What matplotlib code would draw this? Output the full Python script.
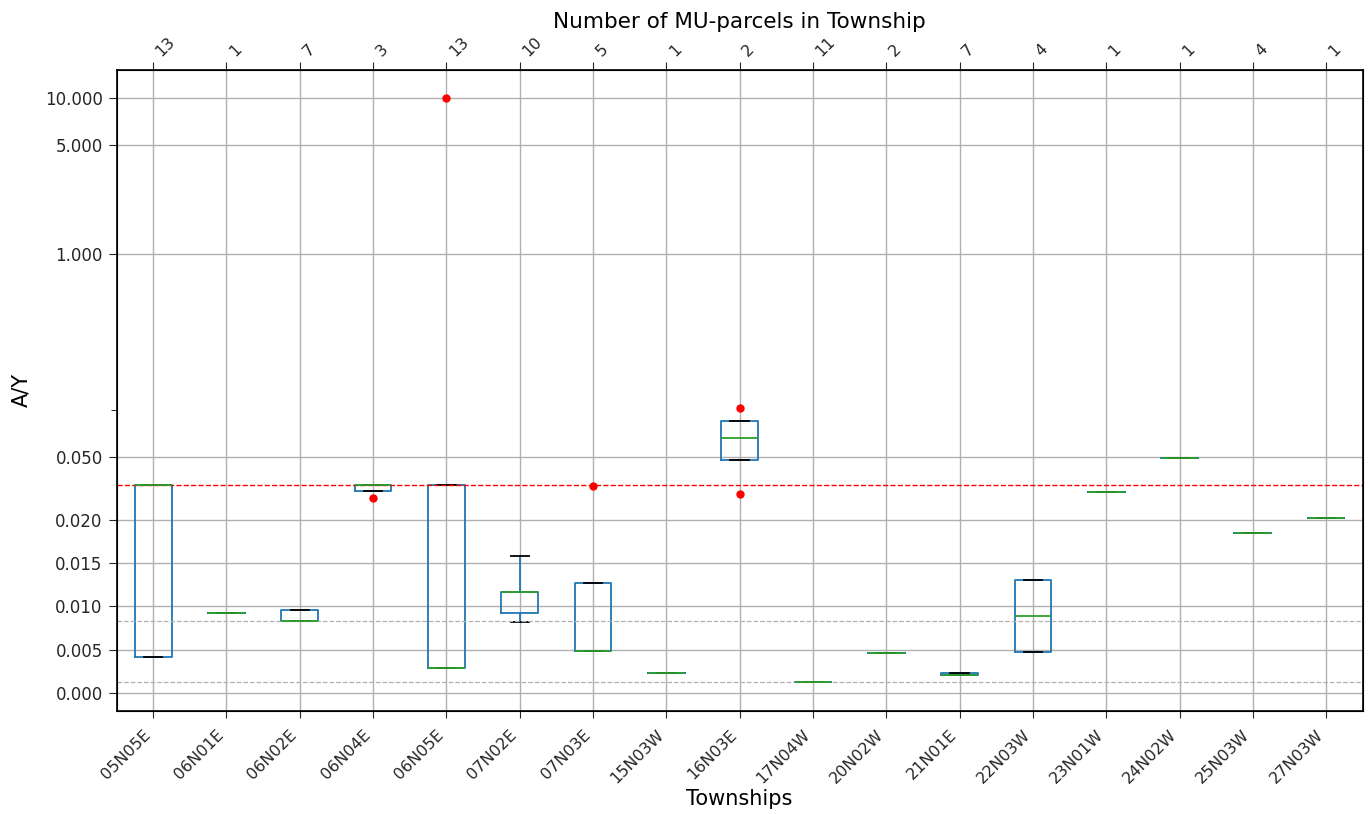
import matplotlib
matplotlib.use("Agg")
import matplotlib.pyplot as plt

# townships and parcel counts
townships = ["05N05E", "06N01E", "06N02E", "06N04E", "06N05E", "07N02E", "07N03E",
             "15N03W", "16N03E", "17N04W", "20N02W", "21N01E", "22N03W", "23N01W",
             "24N02W", "25N03W", "27N03W"]
n_parcels = [13, 1, 7, 3, 13, 10, 5, 1, 2, 11, 2, 7, 4, 1, 1, 4, 1]

# box statistics (A/Y)
q1 = [0.0042, 0.0092, 0.0083, 0.0306, 0.0029, 0.0092, 0.0049, 0.00228, 0.0484, 0.00127,
      0.00459, 0.0021, 0.0047, 0.0300, 0.0495, 0.01842, 0.0206]
med = [0.0333, 0.0092, 0.0083, 0.0333, 0.0029, 0.0117, 0.0049, 0.00228, 0.0662, 0.00127,
       0.00459, 0.0021, 0.00887, 0.0300, 0.0495, 0.01842, 0.0206]
q3 = [0.0333, 0.0092, 0.0096, 0.0333, 0.0333, 0.0117, 0.0127, 0.00228, 0.0854, 0.00127,
      0.00459, 0.0023, 0.0130, 0.0300, 0.0495, 0.01842, 0.0206]
whislo = [0.0042, 0.0092, 0.0083, 0.0306, 0.0029, 0.0082, 0.0049, 0.00228, 0.0484, 0.00127,
          0.00459, 0.0021, 0.0047, 0.0300, 0.0495, 0.01842, 0.0206]
whishi = [0.0333, 0.0092, 0.0096, 0.0333, 0.0333, 0.0158, 0.0127, 0.00228, 0.0854, 0.00127,
          0.00459, 0.0023, 0.0130, 0.0300, 0.0495, 0.01842, 0.0206]
fliers = [[], [], [], [0.0276], [10.0], [], [0.0328], [], [0.103, 0.0293], [],
          [], [], [], [], [], [], []]

# reference lines
ref_red = 1 / 30
ref_gray = [1 / 120, 1 / 800]

yticks = [0, 0.005, 0.010, 0.015, 0.020, 0.050, 1, 5, 10]

stats = []
for i in range(len(townships)):
    stats.append(dict(q1=q1[i], med=med[i], q3=q3[i], whislo=whislo[i],
                      whishi=whishi[i], fliers=fliers[i], label=townships[i]))

fig, ax = plt.subplots(figsize=(13.71, 8.14), dpi=100)
fig.subplots_adjust(left=0.085, right=0.994, top=0.914, bottom=0.127)

ax.bxp(stats, widths=0.5, showfliers=True,
       boxprops=dict(color="#1f77b4", linewidth=1.3),
       whiskerprops=dict(color="#1f77b4", linewidth=1.3),
       capprops=dict(color="black", linewidth=1.3),
       medianprops=dict(color="#2ca02c", linewidth=1.3),
       flierprops=dict(marker="o", markerfacecolor="red", markeredgecolor="red",
                       markersize=5))

ax.axhline(ref_red, color="red", linestyle="--", linewidth=1.0)
for v in ref_gray:
    ax.axhline(v, color="#b0b0b0", linestyle="--", linewidth=0.9)

ax.set_yscale("symlog", linthresh=0.02, linscale=1)
ax.set_ylim(-0.002, 15)
ax.set_xlim(0.5, len(townships) + 0.5)
ax.set_yticks(yticks)
ax.set_yticklabels(["%.3f" % t for t in yticks])
ax.set_yticks([0.1], minor=True)
ax.set_xticklabels(townships, rotation=45, ha="right")
ax.grid(True, color="#b0b0b0", linewidth=1.0)
ax.set_axisbelow(True)
ax.tick_params(axis="y", labelsize=12, length=6, pad=4, colors="#262626")
ax.tick_params(axis="x", labelsize=11.5, length=5, pad=7, colors="#262626")
ax.tick_params(which="minor", length=4)
ax.set_xlabel("Townships", fontsize=15, labelpad=2)
ax.set_ylabel("A/Y", fontsize=15, labelpad=10)
for sp in ax.spines.values():
    sp.set_linewidth(1.2)

# top axis with parcel counts
ax2 = ax.twiny()
ax2.set_xlim(ax.get_xlim())
ax2.set_xticks(range(1, len(townships) + 1))
ax2.set_xticklabels([str(n) for n in n_parcels], rotation=45, ha="left")
ax2.tick_params(labelsize=11.5, length=6, pad=2, colors="#262626")
ax2.set_xlabel("Number of MU-parcels in Township", fontsize=15.5, labelpad=4)

fig.savefig("out.png", dpi=100)
